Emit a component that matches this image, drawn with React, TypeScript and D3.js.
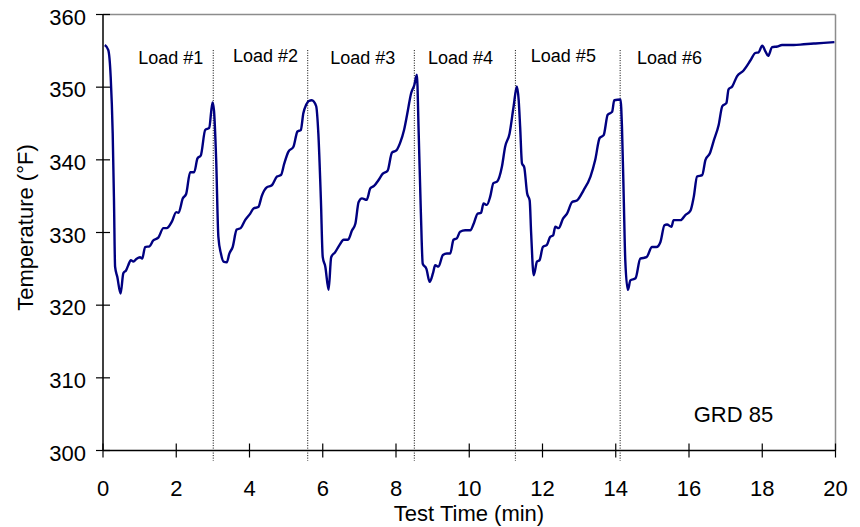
import React from "react";
import * as d3 from "d3";

// Test time (min)
const times = [
  0.05, 0.145, 0.21, 0.265, 0.3, 0.33, 0.39, 0.48, 0.555, 0.63, 0.69, 0.76, 0.83, 0.92, 1.01, 1.07, 1.15, 1.27, 1.37, 1.51, 1.65, 1.74, 1.88, 2.0, 2.06, 2.18, 2.27, 2.38, 2.49, 2.58, 2.67, 2.79, 2.9, 2.99,
  3.03, 3.09, 3.15, 3.22, 3.29, 3.38, 3.45, 3.54, 3.65, 3.76, 3.88, 4.02, 4.11, 4.24, 4.34, 4.47, 4.61, 4.75, 4.86, 4.95, 5.06, 5.2, 5.31, 5.4, 5.47, 5.55, 5.62, 5.7, 5.82, 5.88,
  5.95, 6.0, 6.07, 6.16, 6.23, 6.34, 6.46, 6.57, 6.69, 6.8, 6.89, 6.98, 7.07, 7.2, 7.3, 7.4, 7.52, 7.64, 7.77, 7.89, 8.01, 8.11, 8.22, 8.31, 8.41, 8.5, 8.57,
  8.62, 8.68, 8.73, 8.83, 8.92, 9.01, 9.07, 9.16, 9.28, 9.39, 9.48, 9.57, 9.66, 9.75, 9.89, 10.03, 10.12, 10.23, 10.32, 10.39, 10.48, 10.57, 10.66, 10.76, 10.89, 10.98, 11.1, 11.21, 11.3,
  11.35, 11.39, 11.44, 11.5, 11.58, 11.65, 11.69, 11.76, 11.85, 11.92, 12.01, 12.12, 12.21, 12.29, 12.35, 12.44, 12.56, 12.67, 12.81, 12.94, 13.12, 13.31, 13.44, 13.56, 13.67, 13.78, 13.9, 13.96, 14.13,
  14.17, 14.22, 14.26, 14.33, 14.4, 14.54, 14.67, 14.84, 14.99, 15.11, 15.22, 15.33, 15.4, 15.52, 15.58, 15.77, 15.9, 16.04, 16.13, 16.22, 16.36, 16.45, 16.57, 16.68, 16.81, 16.91, 17.02, 17.08, 17.18, 17.31, 17.49, 17.68, 17.81, 17.9, 18.0, 18.09, 18.16, 18.27, 18.41, 18.54, 18.86, 19.13, 19.41, 19.68, 19.97,
];

// Temperature (°F)
const temps = [
  355.8, 355.1, 351.4, 343.6, 334.4, 325.3, 323.9, 321.6, 324.4, 324.8, 325.5, 326.2, 326.0, 326.4, 326.6, 326.4, 328.0, 328.1, 328.9, 329.3, 330.6, 330.6, 331.5, 332.8, 332.7, 334.7, 335.3, 338.3, 338.3, 340.2, 340.6, 344.1, 344.4, 347.9,
  346.8, 340.0, 329.4, 327.1, 326.0, 325.9, 327.1, 328.0, 330.4, 330.6, 331.7, 332.6, 333.3, 333.5, 335.1, 336.2, 336.5, 337.7, 337.9, 339.5, 341.1, 341.8, 343.9, 344.1, 346.4, 347.6, 348.1, 348.2, 347.4, 343.6,
  334.4, 326.6, 325.3, 322.1, 326.6, 327.3, 328.3, 329.0, 329.0, 330.3, 331.2, 334.2, 334.7, 334.5, 336.1, 336.4, 337.2, 338.1, 338.5, 341.0, 341.3, 342.3, 344.1, 346.4, 349.1, 350.3, 351.7,
  343.6, 332.6, 325.7, 325.0, 323.2, 324.4, 325.5, 325.3, 326.9, 327.1, 327.1, 329.0, 329.2, 330.1, 330.3, 330.3, 331.2, 332.6, 332.7, 334.0, 333.8, 334.9, 336.8, 337.0, 339.0, 341.8, 343.6, 347.3, 350.1,
  348.2, 344.5, 339.5, 339.0, 335.4, 334.4, 329.9, 324.1, 326.0, 326.2, 328.0, 328.3, 329.4, 329.6, 330.8, 330.6, 331.9, 332.6, 334.2, 334.4, 335.8, 337.7, 340.0, 343.0, 343.4, 346.2, 346.6, 348.2, 348.3,
  344.5, 334.4, 326.2, 322.1, 323.4, 323.7, 326.4, 326.6, 328.0, 328.0, 328.7, 331.0, 331.1, 330.8, 331.7, 331.7, 332.4, 333.0, 334.9, 337.7, 337.9, 340.0, 340.9, 342.7, 344.8, 347.4, 347.8, 349.7, 350.1, 351.5, 352.3, 353.7, 354.7, 354.8, 355.7, 354.9, 354.3, 355.5, 355.6, 355.8, 355.8, 355.9, 356.0, 356.1, 356.2,
];

const xTicks = [0, 2, 4, 6, 8, 10, 12, 14, 16, 18, 20];
const yTicks = [300, 310, 320, 330, 340, 350, 360];

// Load boundaries (min)
const loadBoundaries = [3.01, 5.59, 8.5, 11.26, 14.12];
const loadLabels = ["Load #1", "Load #2", "Load #3", "Load #4", "Load #5", "Load #6"];
const loadLabelTimes = [1.85, 4.44, 7.09, 9.76, 12.57, 15.47];
const loadLabelTemps = [353.2, 353.5, 353.2, 353.2, 353.5, 353.2];

const xLabel = "Test Time (min)";
const yLabel = "Temperature (°F)";
const noteLabel = "GRD 85";

export default function App() {
  const W = 860;
  const H = 527;
  const x = d3.scaleLinear().domain([0, 20]).range([103, 835.5]);
  const y = d3.scaleLinear().domain([300, 360]).range([450.5, 14.5]);
  const pts = times.map((t, i) => [t, temps[i]] as [number, number]);
  const line = d3
    .line<[number, number]>()
    .x((d) => x(d[0]))
    .y((d) => y(d[1]))
    .curve(d3.curveMonotoneX);
  const font = "Arial, 'Liberation Sans', Helvetica, sans-serif";
  const x0 = x(0), x1 = x(20), yb = y(300), yt = y(360);

  return (
    <svg
      width={W}
      height={H}
      style={{ position: "absolute", left: 0, top: 0, background: "#fff" }}
      fontFamily={font}
    >
      <rect x={0} y={0} width={W} height={H} fill="#fff" />
      {/* frame: top and right in gray */}
      <line x1={x0} x2={x1} y1={yt} y2={yt} stroke="#8c8c8c" strokeWidth={1.5} />
      <line x1={x1} x2={x1} y1={yt} y2={yb} stroke="#8c8c8c" strokeWidth={1.5} />

      {/* load boundaries */}
      {loadBoundaries.map((b, i) => (
        <line
          key={"b" + i}
          x1={x(b)}
          x2={x(b)}
          y1={y(355.1)}
          y2={y(298.6)}
          stroke="#000"
          strokeWidth={1}
          strokeDasharray="1,1.5"
        />
      ))}

      {/* axes */}
      <line x1={x0} x2={x0} y1={yt} y2={yb} stroke="#000" strokeWidth={1.5} />
      <line x1={x0} x2={x1} y1={yb} y2={yb} stroke="#000" strokeWidth={1.5} />
      {yTicks.map((t) => (
        <g key={"y" + t}>
          <line x1={x0 - 7} x2={x0 + 7} y1={y(t)} y2={y(t)} stroke="#000" strokeWidth={1.2} />
          <text x={86} y={y(t) + 10} textAnchor="end" fontSize={22} fill="#000">
            {t}
          </text>
        </g>
      ))}
      {xTicks.map((t) => (
        <g key={"x" + t}>
          <line x1={x(t)} x2={x(t)} y1={yb - 7} y2={yb + 7} stroke="#000" strokeWidth={1.2} />
          <text x={x(t)} y={496} textAnchor="middle" fontSize={22} fill="#000">
            {t}
          </text>
        </g>
      ))}

      {/* series */}
      <path d={line(pts) || ""} fill="none" stroke="#000080" strokeWidth={2.4} strokeLinejoin="round" />

      {/* annotations */}
      {loadLabels.map((l, i) => (
        <text
          key={l}
          x={x(loadLabelTimes[i])}
          y={y(loadLabelTemps[i])}
          textAnchor="middle"
          fontSize={18}
          fill="#000"
        >
          {l}
        </text>
      ))}
      <text x={733.5} y={422} textAnchor="middle" fontSize={22} fill="#000">
        {noteLabel}
      </text>

      {/* titles */}
      <text x={469} y={521} textAnchor="middle" fontSize={22} fill="#000">
        {xLabel}
      </text>
      <text
        transform={`translate(33,227.5) rotate(-90)`}
        textAnchor="middle"
        fontSize={22}
        fill="#000"
      >
        {yLabel}
      </text>
    </svg>
  );
}
